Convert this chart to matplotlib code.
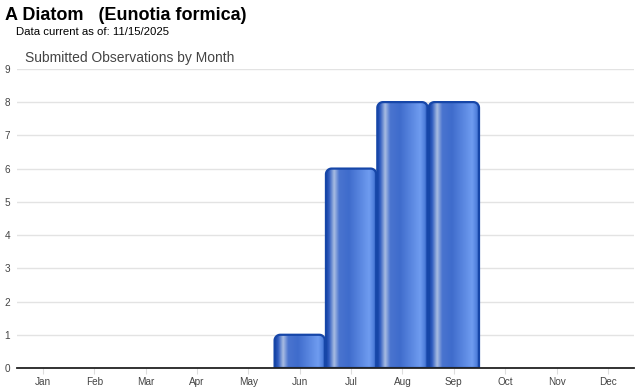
import numpy as np
import matplotlib
matplotlib.use("Agg")
import matplotlib.pyplot as plt
from matplotlib.path import Path
from matplotlib.patches import PathPatch
from matplotlib.colors import LinearSegmentedColormap

MONTHS = ["Jan", "Feb", "Mar", "Apr", "May", "Jun",
          "Jul", "Aug", "Sep", "Oct", "Nov", "Dec"]
COUNTS = [0, 0, 0, 0, 0, 1, 6, 8, 8, 0, 0, 0]
Y_TICKS = list(range(0, 10))

TITLE = "A Diatom   (Eunotia formica)"
SUBTITLE = "Data current as of: 11/15/2025"
CHART_TITLE = "Submitted Observations by Month"

plt.rcParams["font.family"] = ["Liberation Sans", "DejaVu Sans"]

# horizontal "cylinder" shading across each bar
bar_cmap = LinearSegmentedColormap.from_list("cyl", [
    (0.00, "#1743a3"),
    (0.06, "#2f5cbf"),
    (0.16, "#a9bde2"),
    (0.26, "#4a74cf"),
    (0.45, "#3f6ccc"),
    (0.85, "#6f9cf0"),
    (0.94, "#4f7fdc"),
    (1.00, "#1543a8"),
])


def rounded_top(x0, x1, h, rx, ry):
    t = np.linspace(np.pi, np.pi / 2, 12)
    left = np.column_stack([x0 + rx + rx * np.cos(t), h - ry + ry * np.sin(t)])
    t = np.linspace(np.pi / 2, 0, 12)
    right = np.column_stack([x1 - rx + rx * np.cos(t), h - ry + ry * np.sin(t)])
    pts = np.vstack([[x0, 0], left, right, [x1, 0], [x0, 0]])
    codes = [Path.MOVETO] + [Path.LINETO] * (len(pts) - 2) + [Path.CLOSEPOLY]
    return Path(pts, codes)


fig = plt.figure(figsize=(6.4, 3.9), dpi=100)
ax = fig.add_axes([0.027, 0.0564, 0.963, 0.767])

ax.set_xlim(-0.5, 11.5)
ax.set_ylim(0, 9)

grad = np.linspace(0, 1, 256).reshape(1, -1)
width = 0.98
for i, v in enumerate(COUNTS):
    if v <= 0:
        continue
    x0, x1 = i - width / 2, i + width / 2
    path = rounded_top(x0, x1, v, 0.11, 0.17)
    im = ax.imshow(grad, cmap=bar_cmap, extent=[x0, x1, 0, v],
                   aspect="auto", zorder=3, interpolation="bilinear")
    outline = PathPatch(path, facecolor="none", edgecolor="#1646a8",
                        lw=1.6, zorder=4)
    ax.add_patch(outline)
    im.set_clip_path(outline)

ax.set_yticks(Y_TICKS)
ax.set_xticks(range(len(MONTHS)))
ax.set_xticklabels(MONTHS)
ax.grid(axis="y", color="#e3e3e3", lw=1, zorder=0)
ax.set_axisbelow(True)

for s in ["top", "right", "left"]:
    ax.spines[s].set_visible(False)
ax.spines["bottom"].set_color("#222222")
ax.spines["bottom"].set_linewidth(1.3)
ax.spines["bottom"].set_zorder(5)

ax.tick_params(axis="x", length=4, color="#dddddd", labelsize=7.2,
               labelcolor="#444444", pad=2.5)
ax.tick_params(axis="y", length=0, labelsize=7.2, labelcolor="#444444", pad=5)

fig.text(5 / 640, 1 - 15 / 390, TITLE, fontsize=13, fontweight="bold",
         va="center", ha="left", color="#000000")
fig.text(16 / 640, 1 - 32 / 390, SUBTITLE, fontsize=8.2,
         va="center", ha="left", color="#000000")
fig.text(25 / 640, 1 - 58 / 390, CHART_TITLE, fontsize=10,
         va="center", ha="left", color="#444444")

fig.savefig("out.png", dpi=100)
